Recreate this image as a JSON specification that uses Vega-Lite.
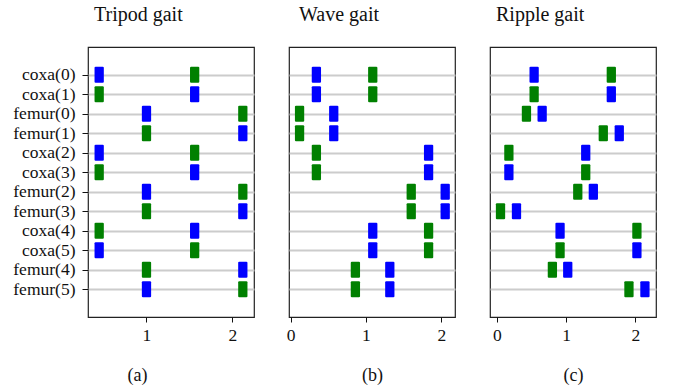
{
  "$schema": "https://vega.github.io/schema/vega-lite/v6.json",
  "padding": {"left": 12, "top": 4, "right": 5, "bottom": 0},
  "background": "white",
  "spacing": 35,
  "bounds": "flush",
  "config": {
    "font": "Liberation Serif",
    "view": {"stroke": "#222222", "strokeWidth": 1.2},
    "title": {"font": "Liberation Serif", "fontSize": 20, "fontWeight": "normal", "color": "#111111", "anchor": "start", "baseline": "alphabetic", "offset": 22, "frame": "group"},
    "axis": {"domain": false, "labelFont": "Liberation Serif", "labelFontSize": 17.5, "labelColor": "#111111", "tickColor": "#111111", "titleFont": "Liberation Serif", "titleFontSize": 18, "titleFontWeight": "normal", "titleColor": "#111111"},
    "axisX": {"grid": false, "tickSize": 5, "labelPadding": 4, "titleY": 63, "titleBaseline": "alphabetic"},
    "axisY": {"grid": true, "gridColor": "#cccccc", "gridWidth": 2, "gridOpacity": 1, "tickSize": 6, "labelPadding": 7, "title": null}
  },
  "datasets": {
    "tripod": [
      {"joint": "coxa(0)", "t": 0.45, "kind": "up"}, {"joint": "coxa(0)", "t": 1.56, "kind": "down"},
      {"joint": "coxa(1)", "t": 0.45, "kind": "down"}, {"joint": "coxa(1)", "t": 1.56, "kind": "up"},
      {"joint": "femur(0)", "t": 1.0, "kind": "up"}, {"joint": "femur(0)", "t": 2.12, "kind": "down"},
      {"joint": "femur(1)", "t": 1.0, "kind": "down"}, {"joint": "femur(1)", "t": 2.12, "kind": "up"},
      {"joint": "coxa(2)", "t": 0.45, "kind": "up"}, {"joint": "coxa(2)", "t": 1.56, "kind": "down"},
      {"joint": "coxa(3)", "t": 0.45, "kind": "down"}, {"joint": "coxa(3)", "t": 1.56, "kind": "up"},
      {"joint": "femur(2)", "t": 1.0, "kind": "up"}, {"joint": "femur(2)", "t": 2.12, "kind": "down"},
      {"joint": "femur(3)", "t": 1.0, "kind": "down"}, {"joint": "femur(3)", "t": 2.12, "kind": "up"},
      {"joint": "coxa(4)", "t": 0.45, "kind": "down"}, {"joint": "coxa(4)", "t": 1.56, "kind": "up"},
      {"joint": "coxa(5)", "t": 0.45, "kind": "up"}, {"joint": "coxa(5)", "t": 1.56, "kind": "down"},
      {"joint": "femur(4)", "t": 1.0, "kind": "down"}, {"joint": "femur(4)", "t": 2.12, "kind": "up"},
      {"joint": "femur(5)", "t": 1.0, "kind": "up"}, {"joint": "femur(5)", "t": 2.12, "kind": "down"}
    ],
    "wave": [
      {"joint": "coxa(0)", "t": 0.343, "kind": "up"}, {"joint": "coxa(0)", "t": 1.09, "kind": "down"},
      {"joint": "coxa(1)", "t": 0.343, "kind": "up"}, {"joint": "coxa(1)", "t": 1.09, "kind": "down"},
      {"joint": "femur(0)", "t": 0.12, "kind": "down"}, {"joint": "femur(0)", "t": 0.573, "kind": "up"},
      {"joint": "femur(1)", "t": 0.12, "kind": "down"}, {"joint": "femur(1)", "t": 0.573, "kind": "up"},
      {"joint": "coxa(2)", "t": 0.343, "kind": "down"}, {"joint": "coxa(2)", "t": 1.83, "kind": "up"},
      {"joint": "coxa(3)", "t": 0.343, "kind": "down"}, {"joint": "coxa(3)", "t": 1.83, "kind": "up"},
      {"joint": "femur(2)", "t": 1.6, "kind": "down"}, {"joint": "femur(2)", "t": 2.05, "kind": "up"},
      {"joint": "femur(3)", "t": 1.6, "kind": "down"}, {"joint": "femur(3)", "t": 2.05, "kind": "up"},
      {"joint": "coxa(4)", "t": 1.09, "kind": "up"}, {"joint": "coxa(4)", "t": 1.83, "kind": "down"},
      {"joint": "coxa(5)", "t": 1.09, "kind": "up"}, {"joint": "coxa(5)", "t": 1.83, "kind": "down"},
      {"joint": "femur(4)", "t": 0.86, "kind": "down"}, {"joint": "femur(4)", "t": 1.316, "kind": "up"},
      {"joint": "femur(5)", "t": 0.86, "kind": "down"}, {"joint": "femur(5)", "t": 1.316, "kind": "up"}
    ],
    "ripple": [
      {"joint": "coxa(0)", "t": 0.538, "kind": "up"}, {"joint": "coxa(0)", "t": 1.654, "kind": "down"},
      {"joint": "coxa(1)", "t": 0.538, "kind": "down"}, {"joint": "coxa(1)", "t": 1.654, "kind": "up"},
      {"joint": "femur(0)", "t": 0.427, "kind": "down"}, {"joint": "femur(0)", "t": 0.654, "kind": "up"},
      {"joint": "femur(1)", "t": 1.538, "kind": "down"}, {"joint": "femur(1)", "t": 1.769, "kind": "up"},
      {"joint": "coxa(2)", "t": 0.173, "kind": "down"}, {"joint": "coxa(2)", "t": 1.284, "kind": "up"},
      {"joint": "coxa(3)", "t": 0.173, "kind": "up"}, {"joint": "coxa(3)", "t": 1.284, "kind": "down"},
      {"joint": "femur(2)", "t": 1.169, "kind": "down"}, {"joint": "femur(2)", "t": 1.394, "kind": "up"},
      {"joint": "femur(3)", "t": 0.052, "kind": "down"}, {"joint": "femur(3)", "t": 0.283, "kind": "up"},
      {"joint": "coxa(4)", "t": 0.913, "kind": "up"}, {"joint": "coxa(4)", "t": 2.024, "kind": "down"},
      {"joint": "coxa(5)", "t": 0.913, "kind": "down"}, {"joint": "coxa(5)", "t": 2.024, "kind": "up"},
      {"joint": "femur(4)", "t": 0.802, "kind": "down"}, {"joint": "femur(4)", "t": 1.024, "kind": "up"},
      {"joint": "femur(5)", "t": 1.909, "kind": "down"}, {"joint": "femur(5)", "t": 2.14, "kind": "up"}
    ]
  },
  "hconcat": [
    {
      "width": 166, "height": 270,
      "title": {"text": "Tripod gait", "dx": 6},
      "data": {"name": "tripod"},
      "mark": {"type": "point", "shape": "M-0.58,-0.88Q-0.58,-1 -0.44,-1H0.44Q0.58,-1 0.58,-0.88V0.88Q0.58,1 0.44,1H-0.44Q-0.58,1 -0.58,0.88Z", "filled": true, "opacity": 1, "size": 256},
      "encoding": {
        "x": {"field": "t", "type": "quantitative", "scale": {"domain": [0.32, 2.25], "nice": false, "zero": false}, "axis": {"values": [1, 2], "format": "d", "title": "(a)", "titleX": 49}},
        "y": {"field": "joint", "type": "nominal", "sort": ["coxa(0)", "coxa(1)", "femur(0)", "femur(1)", "coxa(2)", "coxa(3)", "femur(2)", "femur(3)", "coxa(4)", "coxa(5)", "femur(4)", "femur(5)"], "scale": {"type": "point", "padding": 0, "range": [27.7, 242.3]}, "axis": {"title": null}},
        "color": {"field": "kind", "type": "nominal", "scale": {"domain": ["up", "down"], "range": ["#0000ff", "#008000"]}, "legend": null}
      }
    },
    {
      "width": 166, "height": 270,
      "title": {"text": "Wave gait", "dx": 10},
      "data": {"name": "wave"},
      "mark": {"type": "point", "shape": "M-0.58,-0.88Q-0.58,-1 -0.44,-1H0.44Q0.58,-1 0.58,-0.88V0.88Q0.58,1 0.44,1H-0.44Q-0.58,1 -0.58,0.88Z", "filled": true, "opacity": 1, "size": 256},
      "encoding": {
        "x": {"field": "t", "type": "quantitative", "scale": {"domain": [-0.02, 2.18], "nice": false, "zero": false}, "axis": {"values": [0, 1, 2], "format": "d", "title": "(b)"}},
        "y": {"field": "joint", "type": "nominal", "sort": ["coxa(0)", "coxa(1)", "femur(0)", "femur(1)", "coxa(2)", "coxa(3)", "femur(2)", "femur(3)", "coxa(4)", "coxa(5)", "femur(4)", "femur(5)"], "scale": {"type": "point", "padding": 0, "range": [27.7, 242.3]}, "axis": {"title": null, "labels": false, "ticks": false}},
        "color": {"field": "kind", "type": "nominal", "scale": {"domain": ["up", "down"], "range": ["#0000ff", "#008000"]}, "legend": null}
      }
    },
    {
      "width": 166, "height": 270,
      "title": {"text": "Ripple gait", "dx": 6},
      "data": {"name": "ripple"},
      "mark": {"type": "point", "shape": "M-0.58,-0.88Q-0.58,-1 -0.44,-1H0.44Q0.58,-1 0.58,-0.88V0.88Q0.58,1 0.44,1H-0.44Q-0.58,1 -0.58,0.88Z", "filled": true, "opacity": 1, "size": 256},
      "encoding": {
        "x": {"field": "t", "type": "quantitative", "scale": {"domain": [-0.1, 2.3], "nice": false, "zero": false}, "axis": {"values": [0, 1, 2], "format": "d", "title": "(c)"}},
        "y": {"field": "joint", "type": "nominal", "sort": ["coxa(0)", "coxa(1)", "femur(0)", "femur(1)", "coxa(2)", "coxa(3)", "femur(2)", "femur(3)", "coxa(4)", "coxa(5)", "femur(4)", "femur(5)"], "scale": {"type": "point", "padding": 0, "range": [27.7, 242.3]}, "axis": {"title": null, "labels": false, "ticks": false}},
        "color": {"field": "kind", "type": "nominal", "scale": {"domain": ["up", "down"], "range": ["#0000ff", "#008000"]}, "legend": null}
      }
    }
  ]
}
